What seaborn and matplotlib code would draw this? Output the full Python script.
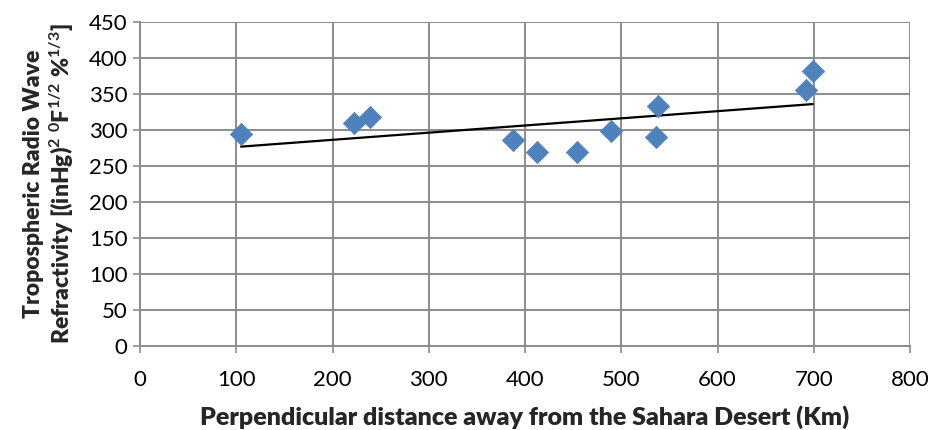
import matplotlib
matplotlib.use("Agg")
import matplotlib.pyplot as plt
import seaborn as sns
import pandas as pd

distance_km = [105, 222, 239, 388, 412, 454, 489, 538, 536, 692, 699]
refractivity = [294, 310, 318, 286, 269, 270, 299, 333, 290, 355, 382]

x_ticks = [0, 100, 200, 300, 400, 500, 600, 700, 800]
y_ticks = [0, 50, 100, 150, 200, 250, 300, 350, 400, 450]

df = pd.DataFrame({"x": distance_km, "y": refractivity})

sns.set_theme(style="white")
plt.rcParams["font.family"] = ["Lato", "DejaVu Sans"]
plt.rcParams["mathtext.fontset"] = "custom"
plt.rcParams["mathtext.rm"] = "Lato:bold"
plt.rcParams["mathtext.bf"] = "Lato:bold"
plt.rcParams["mathtext.it"] = "Lato:bold"

fig = plt.figure(figsize=(9.35, 4.3), dpi=100)
ax = fig.add_axes([140/935, 1-346/430, 770/935, 324/430])

sns.regplot(data=df, x="x", y="y", ax=ax, ci=None, scatter=False,
            line_kws=dict(color="black", lw=1.6), truncate=True)
sns.scatterplot(data=df, x="x", y="y", ax=ax, marker="D", s=130,
                color="#4F81BD", edgecolor="#4F81BD", linewidth=0.5, zorder=3)

ax.set_xlim(0, 800)
ax.set_ylim(0, 450)
ax.set_xticks(x_ticks)
ax.set_yticks(y_ticks)
ax.grid(True, color="#8C8C8C", lw=1.4)
ax.set_axisbelow(True)
for s in ["top", "right"]:
    ax.spines[s].set_visible(False)
for s in ["left", "bottom"]:
    ax.spines[s].set_color("#8C8C8C")
    ax.spines[s].set_linewidth(1.4)
ax.tick_params(axis="both", which="both", direction="out", length=5, width=1.2,
               color="#8C8C8C", labelsize=16, labelcolor="black", pad=4,
               left=True, bottom=True)
ax.tick_params(axis="x", pad=12)

ax.set_xlabel("Perpendicular distance away from the Sahara Desert (Km)",
              fontsize=18, fontweight="heavy", labelpad=11)
ax.set_ylabel("Tropospheric Radio Wave\n"
              r"Refractivity [(inHg)$^{2}$ $^{0}$F$^{1/2}$ %$^{1/3}$]",
              fontsize=16.5, fontweight="heavy", labelpad=9, linespacing=1.2)

fig.savefig("out.png", dpi=100)
